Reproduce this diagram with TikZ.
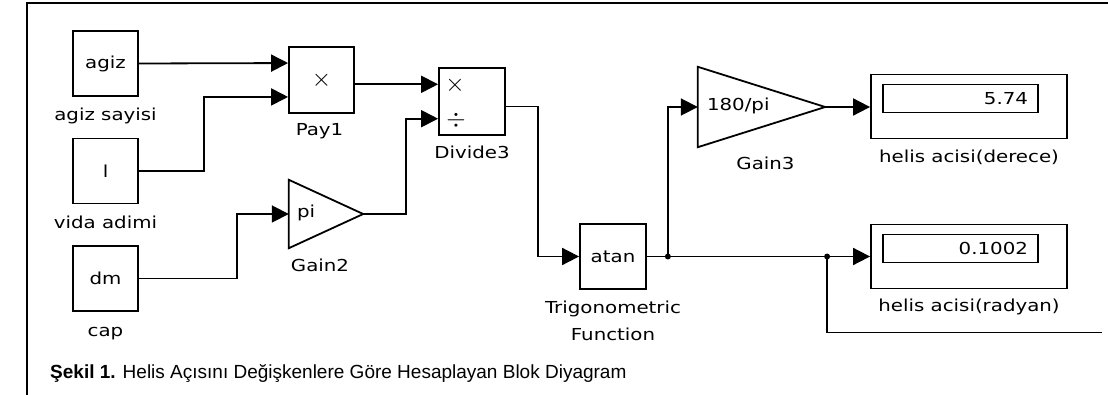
\documentclass[tikz,border=0pt]{standalone}
\usepackage{fontspec}
\setmainfont{Liberation Sans}
\newfontfamily\simfont[FakeStretch=1.2]{DejaVu Sans}
\usetikzlibrary{arrows.meta,positioning,calc}
\tikzset{
  simblock/.style={draw,line width=1.8pt,minimum width=65pt,minimum height=65pt,inner sep=0pt,font=\simfont\fontsize{16.5}{20}\selectfont},
  gainbox/.style={inner sep=0pt},
  display/.style={draw,line width=1.8pt,minimum width=196pt,minimum height=64pt,inner sep=0pt},
  readout/.style={draw,line width=1.8pt,minimum width=155pt,minimum height=28pt,inner sep=0pt,anchor=north west,
    text width=135pt,align=right,font=\simfont\fontsize{16.5}{20}\selectfont},
  blocklabel/.style={inner sep=0pt,text height=12pt,text depth=4pt,font=\simfont\fontsize{16.5}{20}\selectfont},
  signal/.style={->,line width=1.8pt},
  wire/.style={line width=1.8pt},
  figcaption/.style={inner sep=0pt,font=\fontsize{19}{22}\selectfont}
}

\begin{document}
\begin{tikzpicture}[x=1pt,y=-1pt,>={Triangle[length=17pt,width=17pt]}]
        \useasboundingbox (0,0) rectangle (1108,395);
        % blocks at the pixel positions of the model, signals routed by ports
        \draw[wire] (27,395) -- (27,3) -- (1108,3);
        \node[simblock] (agiz) at (105.5,63.5) {agiz};
        \node[simblock] (adim) at (105.5,171) {l};
        \node[simblock] (dm) at (105.5,278.5) {dm};
        \node[simblock,minimum height=66pt] (pay) at (321.5,80) {};
        \node[font=\fontsize{30}{30}\selectfont,inner sep=0pt] (paysym) at (pay) {$\times$};
        \node[gainbox,minimum width=74pt,minimum height=68pt] (g2) at (326,214) {};
        \draw[wire] (g2.north west) -- (g2.east) -- (g2.south west) -- cycle;
        \node[blocklabel,anchor=west] (g2val) at ($(g2.west)+(8,0)$) {pi};
        \node[simblock,minimum width=66pt,minimum height=67pt] (div) at (472,101.5) {};
        \coordinate (pay-in1) at ($(pay.west)!.5!(pay.north west)$);
        \coordinate (pay-in2) at ($(pay.west)!.5!(pay.south west)$);
        \coordinate (div-in1) at ($(div.west)!.5!(div.north west)$);
        \coordinate (div-in2) at ($(div.west)!.5!(div.south west)$);
        \coordinate (div-out) at ($(div.east)+(0,5)$);
        \node[font=\fontsize{26}{26}\selectfont,inner sep=0pt] (divmul) at ($(div-in1)+(17,1)$) {$\times$};
        \node[font=\fontsize{24}{24}\selectfont,inner sep=0pt] (divdiv) at ($(div-in2)+(18,2)$) {$\div$};
        \node[simblock,minimum width=66pt] (atan) at (613,256.5) {atan};
        \node[gainbox,minimum width=127pt,minimum height=80pt] (g3) at (761.5,107) {};
        \draw[wire] (g3.north west) -- (g3.east) -- (g3.south west) -- cycle;
        \node[blocklabel,anchor=west] (g3val) at ($(g3.west)+(9,0)$) {180/pi};
        \node[display] (der) at (969,106.5) {};
        \node[readout] (derval) at ($(der.north west)+(12,10)$) {5.74};
        \node[display] (rad) at (969,256.5) {};
        \node[readout] (radval) at ($(rad.north west)+(12,10)$) {0.1002};

        \node[blocklabel,below=11pt of agiz] (agizlbl) {agiz sayisi};
        \node[blocklabel,below=12pt of adim] (adimlbl) {vida adimi};
        \node[blocklabel,below=12pt of dm] (dmlbl) {cap};
        \node[blocklabel,below=9pt of pay,xshift=-2pt] (paylbl) {Pay1};
        \node[blocklabel,below=11pt of g2,xshift=-6pt] (g2lbl) {Gain2};
        \node[blocklabel,below=10pt of div] (divlbl) {Divide3};
        \node[blocklabel,below=11pt of atan] (trig1) {Trigonometric};
        \node[blocklabel,below=11pt of trig1] (trig2) {Function};
        \node[blocklabel,below=10pt of g3,xshift=4pt] (g3lbl) {Gain3};
        \node[blocklabel,below=11pt of der] (derlbl) {helis acisi(derece)};
        \node[blocklabel,below=10pt of rad] (radlbl) {helis acisi(radyan)};

        \coordinate (br1) at ($(atan.east)+(21,0)$);
        \coordinate (br2) at ($(rad.west)+(-43,0)$);
        \coordinate (tail) at ($(br2)+(275,76)$);
        \draw[signal] (agiz.east) -- (pay-in1);
        \draw[signal] (adim.east) -- ++(65,0) |- (pay-in2);
        \draw[signal] (dm.east) -- ++(98,0) |- (g2.west);
        \draw[signal] (pay.east |- div-in1) -- (div-in1);
        \draw[signal] (g2.east) -- ++(43,0) |- (div-in2);
        \draw[signal] (div-out) -- ++(32,0) |- (atan.west);
        \draw[signal] (atan.east) -- (br2) -- (rad.west);
        \draw[signal] (br1) |- (g3.west);
        \draw[signal] (g3.east) -- (g3.east -| der.west);
        \draw[wire] (br2) |- (tail);
        \fill (br1) circle (3pt);
        \fill (br2) circle (3pt);

        \node[figcaption,anchor=base west] (fig) at (50,378) {\textbf{Şekil 1.} Helis Açısını Değişkenlere Göre Hesaplayan Blok Diyagram};
      \end{tikzpicture}
\end{document}
